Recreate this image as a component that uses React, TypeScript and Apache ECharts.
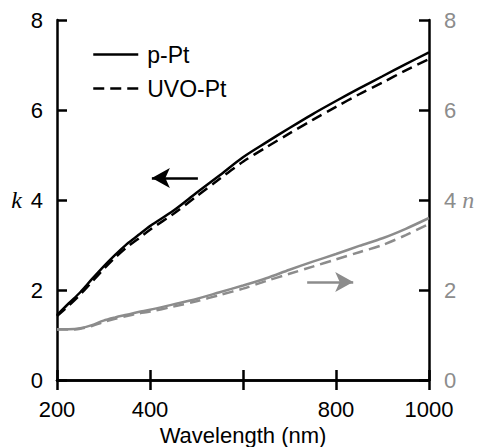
import React, { useEffect, useRef } from "react";
import * as echarts from "echarts";

const wavelengths = [200, 225, 250, 275, 300, 325, 350, 375, 400, 450, 500, 550, 600, 650, 700, 750, 800, 850, 900, 950, 1000];
const kPPt = [1.44, 1.7, 1.95, 2.24, 2.52, 2.78, 3.02, 3.22, 3.42, 3.76, 4.16, 4.55, 4.95, 5.28, 5.6, 5.91, 6.2, 6.48, 6.75, 7.02, 7.28];
const kUVO = [1.42, 1.65, 1.9, 2.18, 2.46, 2.72, 2.95, 3.14, 3.34, 3.69, 4.08, 4.47, 4.85, 5.17, 5.48, 5.78, 6.07, 6.35, 6.61, 6.88, 7.13];
const nPPt = [1.13, 1.13, 1.15, 1.22, 1.32, 1.39, 1.45, 1.51, 1.56, 1.68, 1.8, 1.95, 2.1, 2.26, 2.45, 2.63, 2.8, 2.98, 3.15, 3.36, 3.6];
const nUVO = [1.12, 1.12, 1.14, 1.2, 1.29, 1.36, 1.42, 1.48, 1.52, 1.63, 1.75, 1.89, 2.03, 2.2, 2.36, 2.52, 2.68, 2.84, 3.0, 3.22, 3.47];
const xTicks = [200, 400, 600, 800, 1000];
const hiddenXLabels = [600];
const kArrow = [[503, 4.49], [404, 4.49]];
const nArrow = [[738, 2.18], [837, 2.18]];

const FONT = "Liberation Sans, Arial, sans-serif";
const GRAY = "#8c8c8c";

export default function App() {
  const ref = useRef<HTMLDivElement>(null);
  useEffect(() => {
    document.body.style.margin = "0";
    const chart = echarts.init(ref.current!, null, { renderer: "svg" });
    const pair = (ys: number[]) => wavelengths.map((w, i) => [w, ys[i]]);
    const axisLine = { lineStyle: { color: "#000", width: 2.5 } };
    const tick = { inside: true, length: 10, lineStyle: { color: "#000", width: 2.5 } };
    const dash = [11, 6];
    chart.setOption({
      animation: false,
      grid: { left: 57, right: 52, top: 20, bottom: 67, containLabel: false, outerBoundsMode: "none" },
      legend: {
        data: ["p-Pt", "UVO-Pt"],
        orient: "vertical",
        left: 87,
        top: 38,
        itemWidth: 45,
        itemHeight: 24,
        itemGap: 11,
        itemStyle: { opacity: 0 },
        lineStyle: { width: 2.5 },
        textStyle: { fontSize: 23, fontFamily: FONT, color: "#000", padding: [0, 0, 0, 4] },
        selectedMode: false,
      },
      xAxis: [
        {
          type: "value",
          min: xTicks[0],
          max: xTicks[xTicks.length - 1],
          interval: 200,
          position: "bottom",
          axisLine,
          axisTick: tick,
          splitLine: { show: false },
          axisLabel: {
            fontSize: 22,
            fontFamily: FONT,
            color: "#000",
            margin: 18,
            formatter: (v: number) => (hiddenXLabels.includes(v) ? "" : String(v)),
          },
          name: "Wavelength (nm)",
          nameLocation: "middle",
          nameGap: 35,
          nameTextStyle: { fontSize: 22, fontFamily: FONT, color: "#000" },
        },
        {
          type: "value",
          min: xTicks[0],
          max: xTicks[xTicks.length - 1],
          interval: 200,
          position: "top",
          axisLine,
          axisTick: tick,
          splitLine: { show: false },
          axisLabel: { show: false },
        },
      ],
      yAxis: [
        {
          type: "value",
          min: 0,
          max: 8,
          interval: 2,
          position: "left",
          axisLine: { show: true, ...axisLine },
          axisTick: { show: true, ...tick },
          splitLine: { show: false },
          axisLabel: { fontSize: 22, fontFamily: FONT, color: "#000", margin: 14 },
          name: "k",
          nameLocation: "middle",
          nameRotate: 0,
          nameGap: 35,
          nameTextStyle: { fontSize: 24, fontFamily: "Liberation Serif, serif", fontStyle: "italic", color: "#000" },
        },
        {
          type: "value",
          min: 0,
          max: 8,
          interval: 2,
          position: "right",
          axisLine: { show: true, ...axisLine },
          axisTick: { show: true, ...tick },
          splitLine: { show: false },
          axisLabel: { fontSize: 22, fontFamily: FONT, color: GRAY, margin: 15 },
          name: "n",
          nameLocation: "middle",
          nameRotate: 0,
          nameGap: 29,
          nameTextStyle: { fontSize: 24, fontFamily: "Liberation Serif, serif", fontStyle: "italic", color: GRAY },
        },
      ],
      series: [
        {
          name: "p-Pt",
          type: "line",
          data: pair(kPPt),
          showSymbol: false,
          symbol: "none",
          smooth: 0.3,
          lineStyle: { color: "#000", width: 2.5 },
          itemStyle: { color: "#000" },
          markLine: {
            silent: true,
            symbol: ["none", "arrow"],
            symbolSize: [15, 18],
            label: { show: false },
            lineStyle: { color: "#000", width: 2.5, type: "solid" },
            data: [[{ coord: kArrow[0] }, { coord: kArrow[1] }]],
          },
        },
        {
          name: "UVO-Pt",
          type: "line",
          data: pair(kUVO),
          showSymbol: false,
          symbol: "none",
          smooth: 0.3,
          lineStyle: { color: "#000", width: 2.5, type: dash },
          itemStyle: { color: "#000" },
        },
        {
          name: "p-Pt n",
          type: "line",
          yAxisIndex: 1,
          data: pair(nPPt),
          showSymbol: false,
          symbol: "none",
          smooth: 0.3,
          lineStyle: { color: GRAY, width: 2.5 },
          itemStyle: { color: GRAY },
          markLine: {
            silent: true,
            symbol: ["none", "arrow"],
            symbolSize: [15, 18],
            label: { show: false },
            lineStyle: { color: GRAY, width: 2.5, type: "solid" },
            data: [[{ coord: nArrow[0] }, { coord: nArrow[1] }]],
          },
        },
        {
          name: "UVO-Pt n",
          type: "line",
          yAxisIndex: 1,
          data: pair(nUVO),
          showSymbol: false,
          symbol: "none",
          smooth: 0.3,
          lineStyle: { color: GRAY, width: 2.5, type: dash },
          itemStyle: { color: GRAY },
        },
      ],
    });
    return () => chart.dispose();
  }, []);
  return <div ref={ref} style={{ width: 481, height: 447 }} />;
}
